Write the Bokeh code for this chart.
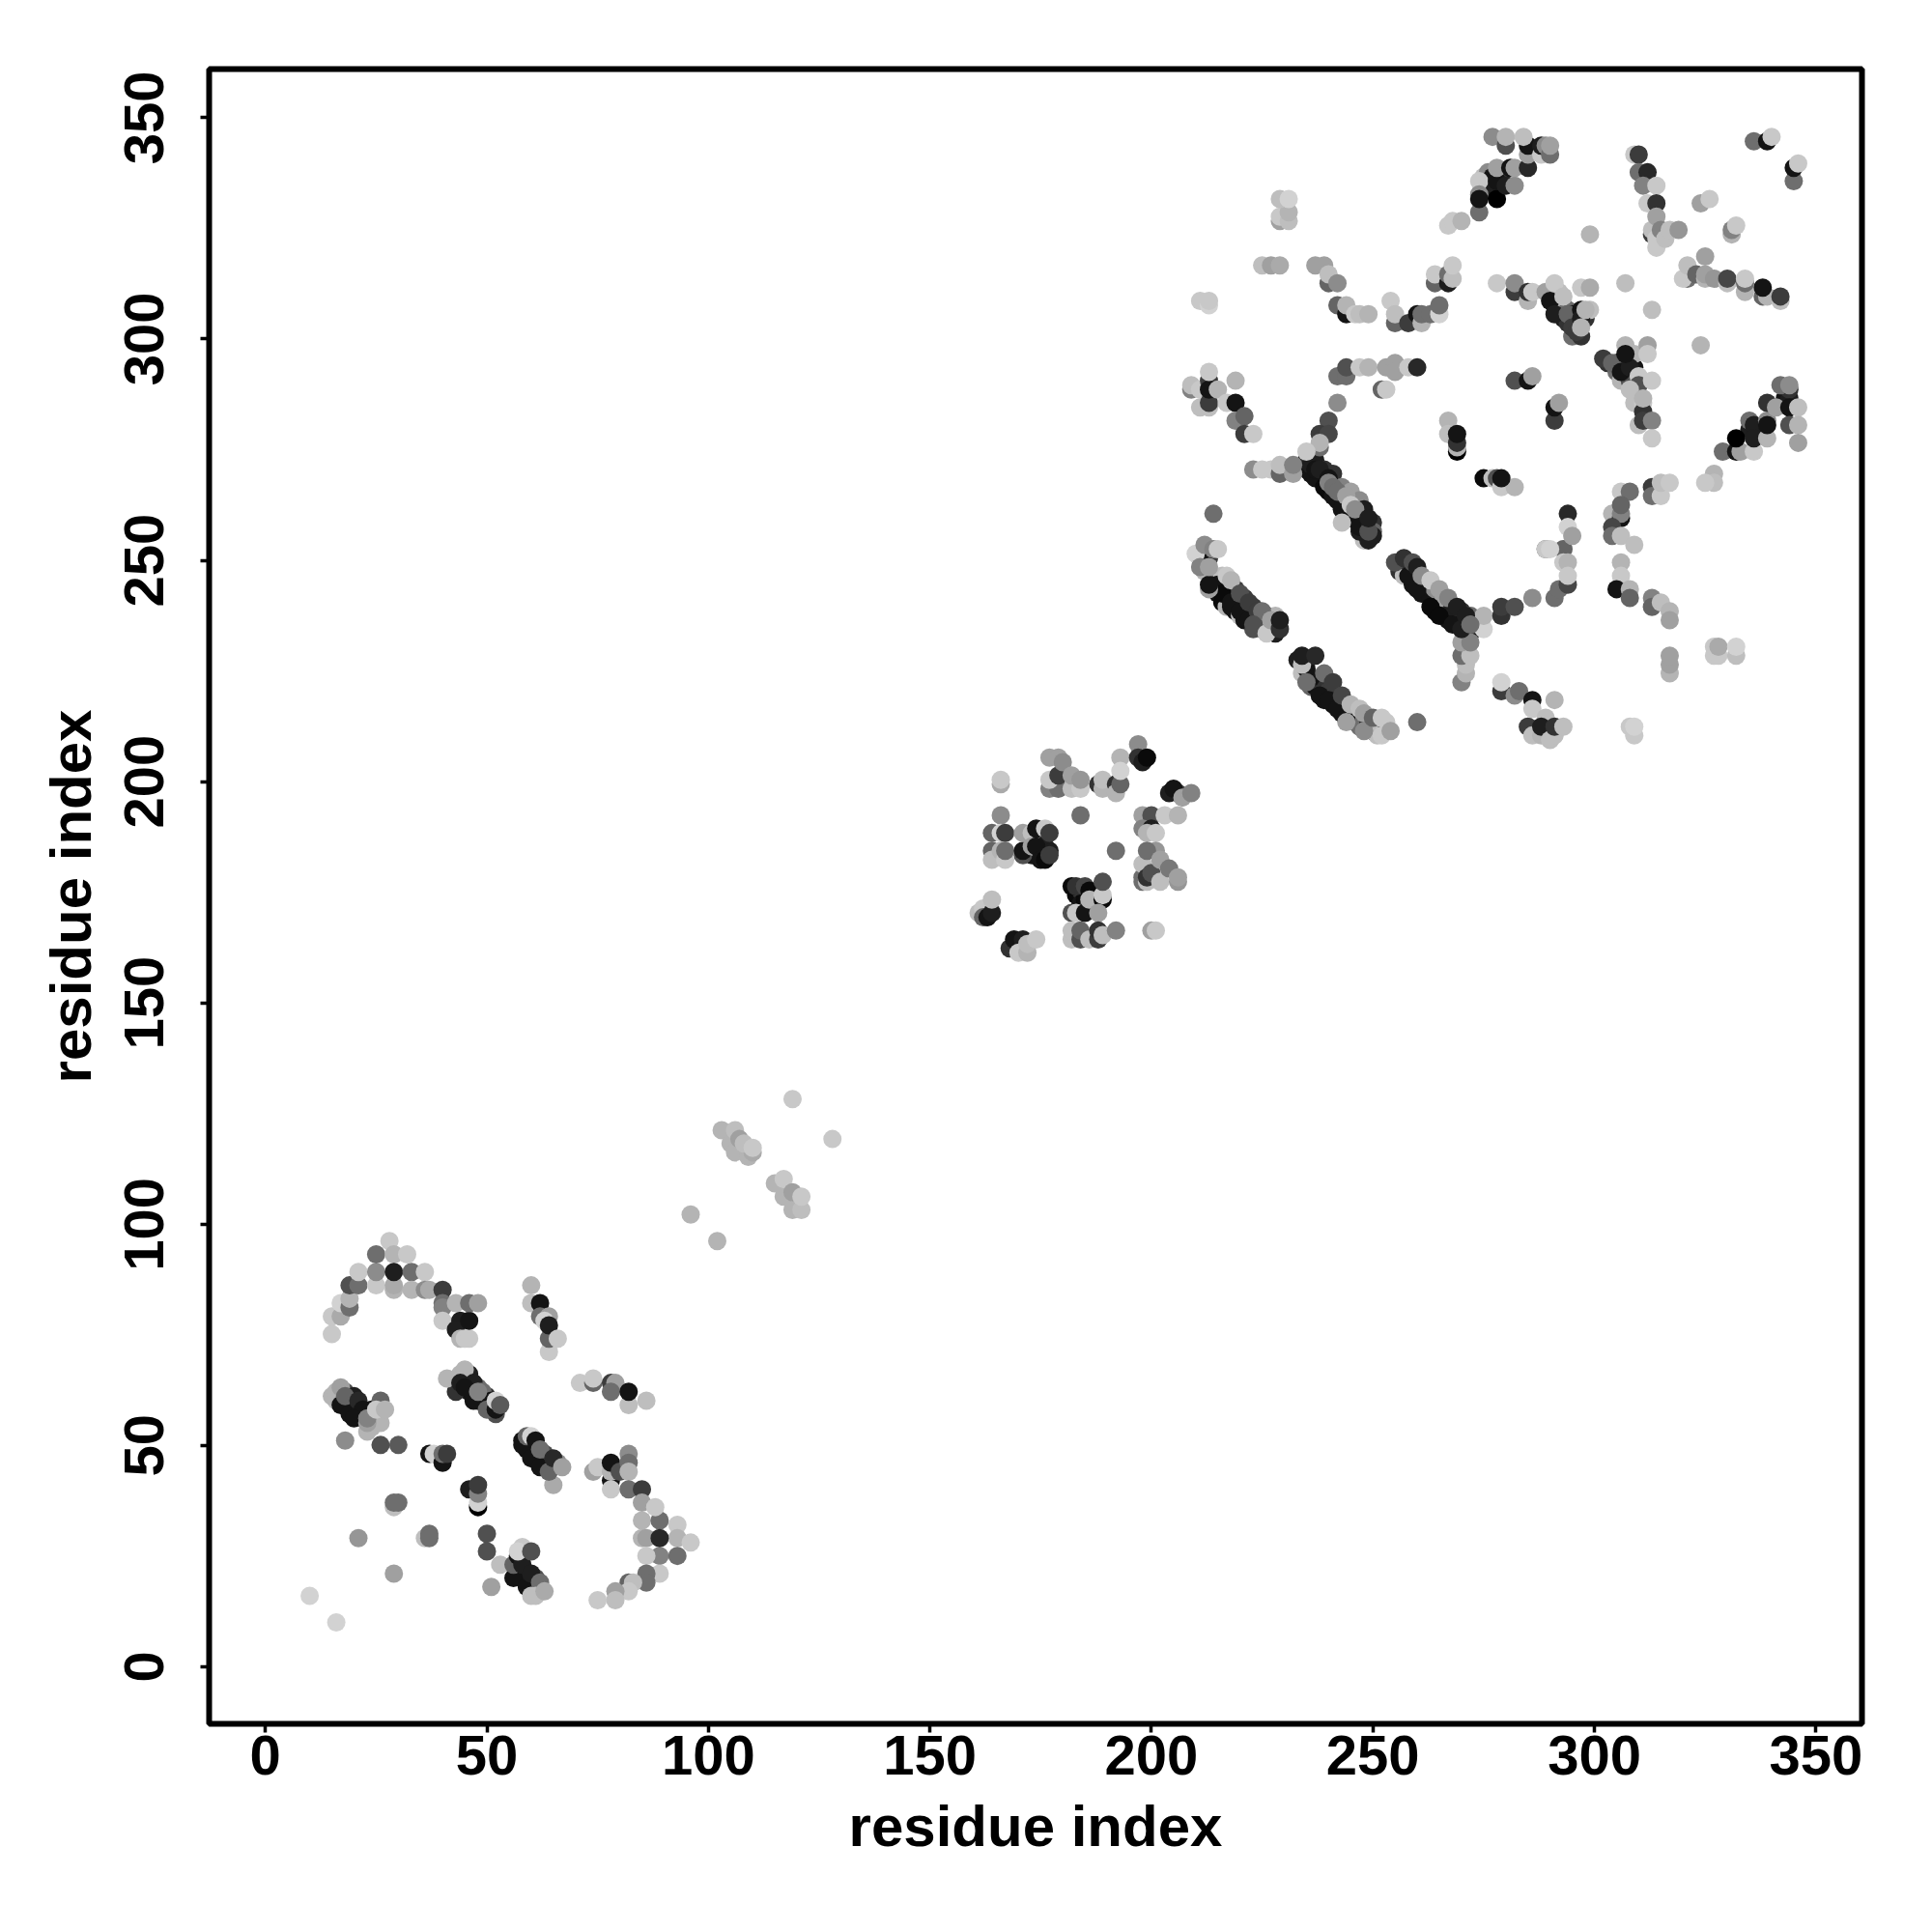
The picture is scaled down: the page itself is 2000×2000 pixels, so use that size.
from bokeh.embed import file_html
from bokeh.models import ColumnDataSource, FixedTicker, LinearColorMapper, Range1d
from bokeh.plotting import figure
from bokeh.resources import INLINE

# Each contact: residue x, residue y, and strength level (0 = darkest ... 21 = palest)
under_x = [214,215,216,217,218,219,220,221,223,224,225,226,227,228,216,217,219,221,223,225,226,228,228,
           233,234,235,236,237,238,239,240,241,242,243,244,245,246,247,249,250,251,251,253,253,
           235,236,237,238,239,240,241,242,243,244,245,246,247,247,248,248,250,250,250,248,247,
           256,257,258,259,260,261,262,263,264,264,266,266,267,268,269,270,270,272,273,272,
           16,18,18,19,20,20,21,22,24,24,25,26,
           46,46,47,48,48,49,50,51,52,50,44,43,
           58,59,60,61,62,63,63,64,66,
           57,58,59,60,61,62,62,
           175,176,174,177,175,173,172,183,184,184,185,186,
           291,292,293,294,295,296,292,293,294,295,297,298,
           303,305,305,307,306,308,309,309,
           211,212,212,213,212,275,276,277,279,276,277,335,337,338,343,344]
under_y = [245,242,240,239,239,238,237,236,234,235,234,235,234,233,246,244,243,241,239,237,237,237,235,
           227,224,225,221,221,222,218,220,217,218,215,216,214,213,212,213,211,212,210,213,211,
           272,269,272,268,270,265,269,263,266,262,265,259,263,258,257,261,258,256,255,254,256,
           247,246,249,244,246,242,244,241,243,238,238,241,236,239,235,238,236,233,235,237,
           60,59,62,60,58,61,58,56,54,58,56,55,
           66,62,62,60,63,60,61,59,57,59,66,62,
           51,49,50,48,47,46,48,45,46,
           22,20,21,19,20,17,18,
           184,185,183,184,187,183,184,174,175,172,173,172,
           307,306,304,303,300,302,310,307,306,305,300,304,
           294,292,294,294,290,290,293,296,
           250,251,247,250,249,336,337,336,336,333,334,279,279,278,286,286]
under_s = [11,2,1,18,2,2,19,2,8,3,8,5,5,3,19,11,6,6,6,11,3,18,5,
           3,19,2,10,2,5,2,6,2,3,2,8,10,14,11,3,3,19,19,20,3,
           5,2,3,1,5,1,5,2,13,1,16,2,14,1,19,3,5,10,3,19,3,
           5,19,5,2,1,2,20,2,14,1,1,16,2,3,3,5,5,2,5,11,
           19,2,8,8,2,3,3,3,18,2,2,18,
           3,2,11,2,11,3,5,8,8,2,18,5,
           2,2,11,2,11,2,8,10,14,
           3,2,2,5,8,18,13,
           1,2,2,3,3,2,5,1,5,2,1,8,
           2,2,3,5,11,3,19,18,11,2,5,5,
           5,11,2,6,18,8,2,18,
           3,11,18,6,2,19,14,2,5,2,3,3,2,3,2,3]

low_x = [15,15,17,17,19,19,19,21,21,25,25,25,28,29,29,29,29,32,33,33,36,36,37,40,40,40,40,43,44,43,44,45,46,46,46,48,
         60,60,62,62,64,63,64,64,64,66,
         15,16,17,17,19,18,21,22,20,23,23,23,26,25,27,18,26,30,
         41,45,44,47,45,47,49,51,50,52,52,53,48,
         58,59,60,61,60,62,62,65,64,65,67,
         37,38,40,40,41,46,48,48,48,48,
         29,30,29,21,36,37,37,29,10,16,50,50,51,53,
         56,59,56,57,58,60,58,57,60,62,60,61,63,
         71,74,74,78,79,78,82,82,86,
         74,75,78,78,78,80,82,82,82,78,82,85,
         85,85,89,88,93,93,85,86,89,93,89,96,86,89,86,86,82,83,82,79,79,75,
         96,102,119,128,
         103,105,106,109,110,106,107,108,110,
         115,117,119,121,117,119,121]
low_y = [75,79,79,82,81,83,86,86,89,86,89,93,96,93,85,86,89,93,89,85,89,85,85,85,82,81,78,82,78,76,74,74,74,78,82,82,
         86,82,82,79,79,78,71,74,77,74,
         61,62,63,59,57,61,60,58,56,53,55,56,60,58,58,51,50,50,
         65,67,64,64,63,60,62,60,58,58,60,59,62,
         50,52,52,51,47,45,49,41,44,47,45,
         48,48,46,48,48,40,36,37,39,41,
         36,37,37,29,29,30,29,21,16,10,30,26,18,23,
         20,18,23,25,23,21,27,26,26,19,16,16,17,
         64,64,65,64,64,62,59,62,60,
         44,45,42,44,46,44,48,46,44,40,40,40,
         37,33,33,36,32,29,29,29,25,25,29,28,25,21,21,19,19,19,17,17,15,15,
         102,96,128,119,
         121,118,116,115,116,121,119,118,117,
         109,106,103,103,110,107,106]
low_s = [20,20,17,21,11,18,8,11,20,20,14,11,20,18,18,17,3,20,11,18,20,14,17,6,11,13,20,18,3,3,18,20,20,2,11,16,
         18,19,2,11,16,21,20,10,3,20,
         18,18,16,2,2,10,4,2,2,18,16,13,10,20,18,14,8,9,
         18,18,3,3,2,2,11,2,10,2,21,9,13,
         2,10,21,2,2,2,11,17,10,4,16,
         2,21,2,11,6,3,0,21,13,6,
         19,11,11,15,19,11,11,16,21,21,8,8,16,19,
         2,2,10,2,3,3,20,21,8,11,19,19,17,
         20,10,20,6,16,11,19,2,19,
         16,20,2,18,2,8,14,11,18,20,11,6,
         16,18,11,20,20,18,18,16,13,11,4,20,20,20,11,11,10,19,20,16,19,20,
         18,18,20,20,
         18,18,18,18,17,19,16,19,20,
         18,18,18,19,20,16,20]

mid_x = [166,166,177,179,177,179,177,179,180,182,182,184,184,
         188,189,189,192,192,193,193,193,197,197,198,199,
         206,204,205,207,209,198,200,203,206,198,200,199,201,
         198,198,198,199,199,200,201,199,202,202,204,206,206,
         166,164,166,167,164,164,166,167,167,171,171,171,173,173,174,174,175,176,176,177,177,184,192,
         182,183,185,186,182,183,185,186,189,189,189,188,
         182,182,184,184,186,188,188,189,192,200,201,
         161,162,162,163,164,164,168,169,171,170,172,172,174]
mid_y = [199,200,205,205,198,198,200,201,204,198,201,198,200,
         199,198,200,199,197,199,205,202,208,205,204,205,
         197,197,198,196,197,192,192,192,192,189,189,188,188,
         177,178,181,177,178,179,184,184,177,182,180,177,178,
         192,188,188,188,184,182,184,182,184,183,184,188,188,185,185,189,182,182,189,183,188,192,184,
         176,176,176,175,170,170,170,173,173,174,177,170,
         164,166,164,166,164,164,166,165,166,166,166,
         170,171,169,169,170,173,162,164,164,161,161,163,164]
mid_s = [17,20,16,16,13,11,20,6,14,19,16,20,15,
         5,18,19,5,18,10,18,21,14,5,3,1,
         6,3,2,16,13,16,8,20,18,13,3,18,20,
         11,11,19,19,5,8,15,11,19,16,12,15,16,
         14,10,21,6,10,19,18,20,11,8,2,16,19,16,2,2,2,1,20,6,6,11,11,
         1,5,7,1,8,20,2,18,1,20,8,16,
         19,19,8,10,19,6,5,19,13,16,20,
         19,20,10,2,3,19,5,2,3,20,18,19,20]

band_x = [215,216,218,220,222,213,213,210,212,211,213,214,215,214,217,218,220,222,224,225,223,226,227,229,229,
          236,238,240,242,244,244,234,235,234,237,239,241,243,245,247,248,248,250,252,252,254,
          237,239,241,243,245,247,235,236,237,238,240,240,241,242,243,244,245,246,249,249,249,
          270,271,271,270,272,270,272,275,275,279,279,282,286,
          258,260,263,265,268,270,255,257,259,260,261,263,265,267,269,271,272]
band_y = [244,242,240,238,236,243,244,251,253,248,248,252,252,260,246,245,242,240,238,238,235,233,236,234,236,
          223,219,218,216,214,213,226,222,228,228,224,222,219,217,216,215,211,214,210,214,211,
          268,266,264,261,259,257,270,271,270,270,268,267,266,265,258,264,262,261,254,256,259,
          222,224,226,228,228,231,231,234,237,237,239,239,241,
          246,243,239,237,235,234,249,250,249,248,246,245,243,241,239,237,235]
band_s = [2,1,2,2,2,16,2,21,14,13,16,13,20,11,20,18,8,6,6,11,8,20,16,5,3,
          2,2,2,2,2,16,19,11,3,4,11,6,7,18,19,16,14,10,20,20,16,
          2,1,2,2,2,2,2,3,2,3,2,13,11,11,19,16,20,14,3,8,3,
          13,18,19,11,19,16,13,21,18,5,6,8,14,
          2,2,1,1,2,3,8,5,8,3,14,20,16,13,3,3,11]

top_x = [229,229,231,231,229,231,225,227,229,237,239,240,240,242,211,213,213,
         242,244,244,246,247,249,255,254,255,258,260,261,261,263,265,265,
         264,264,267,267,268,268,267,268,270,
         274,274,274,274,278,278,278,280,282,281,282,285,285,285,277,280,280,284,288,288,289,290,290,
         278,282,282,285,285,286,
         209,209,211,211,213,213,213,213,213,215,219,217,219,219,221,221,223,
         242,244,244,247,249,252,253,253,255,255,258,260,
         242,240,238,240,238,238,235,223,225,227,229,229,232,232,
         267,267,269,269,269,269,275,277,278,279,282,279,282,285,286,
         291,291,292,309,311,311,310,311,313,313]
top_y = [326,327,326,328,331,331,316,316,316,316,316,312,314,312,308,307,308,
         307,305,307,305,305,305,303,308,305,303,305,303,305,305,305,307,
         312,314,312,314,313,316,325,326,326,
         328,335,332,331,331,335,338,334,334,338,338,338,341,343,345,343,345,345,341,343,343,341,343,
         312,310,312,308,310,310,
         288,289,288,284,284,285,290,288,292,288,290,285,285,281,282,278,278,
         291,291,293,293,293,288,288,293,294,292,293,293,
         285,281,278,278,275,276,274,270,270,270,269,271,269,271,
         281,278,274,275,276,278,268,268,268,266,266,268,290,290,291,
         281,284,285,285,285,283,280,281,281,277]
top_s = [16,20,19,18,19,21,19,16,17,16,16,10,19,14,20,21,20,
         10,2,18,20,19,18,10,20,19,6,2,18,11,11,21,11,
         10,20,3,11,19,20,20,20,18,
         11,20,14,2,0,2,16,3,14,2,16,4,16,2,14,8,18,19,20,3,14,11,16,
         20,6,14,18,5,20,
         13,19,20,19,19,6,6,2,20,18,18,20,2,13,10,6,20,
         11,11,8,20,18,10,20,16,16,16,20,4,
         14,8,6,7,11,18,20,14,20,20,10,19,16,13,
         18,19,0,18,5,2,1,19,8,20,18,2,8,2,16,
         6,2,16,19,20,5,19,6,13,20]

right_x = [329,332,333,336,332,335,336,336,339,339,339,339,341,344,344,344,346,346,346,
           327,327,325,313,313,315,315,317,
           306,308,304,306,306,306,304,304,306,309,294,294,293,293,295,289,289,290,
           291,292,294,293,294,294,306,306,305,308,308,313,313,315,317,317,
           317,317,317,327,328,327,328,332,332,308,309,309,
           279,279,282,283,286,291,286,289,285,285,286,288,288,290,291,291,293,260,
           309,310,310,312,311,314,312,314,313,313,314,314,314,315,316,317,319,
           299,324,326,331,331,332,
           321,320,321,323,325,325,325,327,330,330,334,334,334,338,339,338,342,342,
           336,339,340,345,345,346,324,313,307,297,299,299,
           289,290,291,293,291,294,295,297,297,296,297,298,
           302,304,306,308,307,307,312,312,310,310,308,311,313,342,344]
right_y = [274,274,274,274,277,281,280,277,277,281,280,285,284,288,284,280,284,280,276,
           269,267,267,266,264,264,267,267,
           265,265,260,259,260,262,257,255,255,253,260,257,252,252,255,252,252,252,
           241,243,244,249,249,246,249,246,243,243,241,241,239,240,238,236,
           224,226,228,228,228,230,230,228,230,212,210,212,
           220,222,219,220,218,218,216,214,212,212,210,210,212,209,210,212,212,213,
           341,341,337,337,334,334,330,330,323,324,327,320,322,324,322,324,324,
           323,330,331,323,324,325,
           313,313,316,314,313,318,314,313,312,313,310,312,313,309,309,311,308,309,
           344,344,345,335,338,339,298,306,312,311,311,306,
           310,308,312,309,305,305,302,306,304,301,302,306,
           295,294,292,293,298,296,298,296,291,289,288,286,290,289,289]
right_s = [11,2,16,20,0,11,3,3,18,14,2,5,16,5,2,8,19,18,16,
           18,19,20,6,11,20,19,20,
           20,11,18,2,13,10,7,11,19,19,4,21,18,10,16,11,20,21,
           11,11,7,20,18,20,18,20,2,18,10,13,10,19,18,16,
           18,16,16,20,20,20,17,19,21,20,20,21,
           6,21,14,11,2,18,20,19,18,6,19,18,3,19,19,5,19,11,
           20,6,11,4,13,20,20,5,6,19,16,20,20,13,19,19,15,
           18,16,20,18,13,20,
           11,20,19,10,18,16,16,15,19,7,18,11,20,10,18,2,19,6,
           11,2,20,11,2,20,18,19,19,20,17,19,
           16,2,20,19,3,10,6,2,3,6,18,18,
           6,10,2,3,18,2,16,20,20,8,19,18,20,11,14]

x_ticks = [0, 50, 100, 150, 200, 250, 300, 350]
y_ticks = [0, 50, 100, 150, 200, 250, 300, 350]
axis_title = "residue index"

palette = [f"#{v:02x}{v:02x}{v:02x}" for v in range(0, 220, 10)]

# The y readings were taken against a slightly short scale; this corrects them.
Y_READING_CORRECTION = 1.002

xs = under_x + low_x + mid_x + band_x + top_x + right_x
ys = [v * Y_READING_CORRECTION for v in under_y + low_y + mid_y + band_y + top_y + right_y]
ss = under_s + low_s + mid_s + band_s + top_s + right_s
for a, b, c in ((under_x, under_y, under_s), (low_x, low_y, low_s), (mid_x, mid_y, mid_s),
                (band_x, band_y, band_s), (top_x, top_y, top_s), (right_x, right_y, right_s)):
    if not len(a) == len(b) == len(c):
        raise SystemExit(f"length mismatch {len(a)} {len(b)} {len(c)}")

left, right, top, bottom = 216, 1927, 71, 1784
W, H = 1984, 1984
p = figure(width=W, height=H, output_backend="svg", toolbar_location=None,
           x_range=Range1d(-12.7, 360.4), y_range=Range1d(-12.9, 361.0),
           min_border_left=left, min_border_right=W - right,
           min_border_top=top, min_border_bottom=H - bottom,
           background_fill_color="white", border_fill_color="white")
p.grid.visible = False
p.outline_line_color = "black"
p.outline_line_width = 6

mapper = LinearColorMapper(palette=palette, low=-0.5, high=21.5)
src = ColumnDataSource(dict(x=xs, y=ys, s=ss))
p.scatter("x", "y", source=src, size=19, line_color=None,
          fill_color={"field": "s", "transform": mapper})

for ax, ticks in ((p.xaxis[0], x_ticks), (p.yaxis[0], y_ticks)):
    ax.ticker = FixedTicker(ticks=ticks)
    ax.axis_label = axis_title
    ax.axis_line_color = None
    ax.major_tick_line_color = "black"
    ax.major_tick_line_width = 3.5
    ax.major_tick_in = 0
    ax.major_tick_out = 9
    ax.minor_tick_line_color = None
    ax.major_label_text_font = "Liberation Sans"
    ax.major_label_text_font_style = "bold"
    ax.major_label_text_font_size = "58px"
    ax.major_label_text_color = "black"
    ax.axis_label_text_font = "Liberation Sans"
    ax.axis_label_text_font_style = "bold"
    ax.axis_label_text_font_size = "60px"
    ax.axis_label_text_color = "black"
p.yaxis[0].major_label_orientation = "vertical"
p.xaxis[0].major_label_standoff = 3
p.yaxis[0].major_label_standoff = 38
p.xaxis[0].axis_label_standoff = 17
p.yaxis[0].axis_label_standoff = 20

open("out.html", "w").write(file_html(p, INLINE))
